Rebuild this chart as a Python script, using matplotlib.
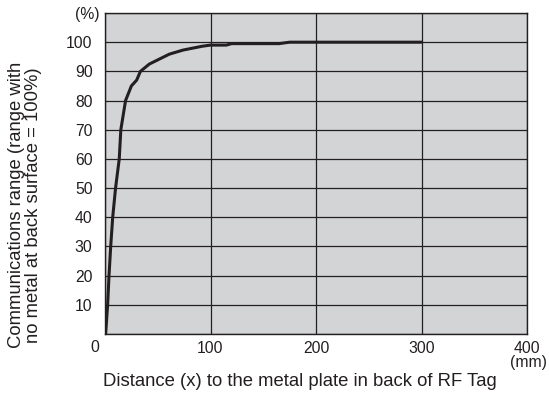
import matplotlib
matplotlib.use("Agg")
import matplotlib.pyplot as plt
from matplotlib import font_manager as fm

path = None
for f in fm.fontManager.ttflist:
    if f.fname.endswith('LiberationSans-Regular.ttf'):
        path = f.fname
        break


def font(size):
    if path:
        return fm.FontProperties(fname=path, size=size)
    return fm.FontProperties(family='DejaVu Sans', size=size)


fp = font(11.3)
fl = font(13.3)

distance_mm = [0.6, 2.5, 3.8, 5.4, 7.3, 10, 13.5, 15, 19.5, 25, 30, 33.6, 42, 61, 74, 92, 100, 115, 120, 165, 175, 300]
range_pct = [0, 10, 20, 30, 40, 50, 60, 70, 80, 85, 87, 90, 92.5, 95.9, 97.3, 98.6, 99, 99, 99.5, 99.5, 100, 100]

x_ticks = [0, 100, 200, 300, 400]
y_ticks = [0, 10, 20, 30, 40, 50, 60, 70, 80, 90, 100]

C = '#231f20'

fig = plt.figure(figsize=(5.49, 3.97), dpi=100)
ax = fig.add_axes([105/549, 1-334/397, (527-105)/549, (334-13)/397])
ax.set_facecolor('#d3d4d6')
ax.set_xlim(0, 400)
ax.set_ylim(0, 110)
ax.set_xticks(x_ticks)
ax.set_xticklabels([''] + [str(v) for v in x_ticks[1:]], fontproperties=fp)
ax.set_yticks(y_ticks + [110])
ax.set_yticklabels([''] + [str(v) for v in y_ticks[1:]] + [''], fontproperties=fp)
ax.tick_params(length=0, colors=C)
ax.tick_params(axis='y', pad=9)
ax.tick_params(axis='x', pad=5)
ax.grid(True, color=C, linewidth=0.9)
ax.set_axisbelow(True)
for s in ax.spines.values():
    s.set_color(C)
    s.set_linewidth(1.0)

ax.plot(distance_mm, range_pct, color=C, linewidth=2.2, solid_joinstyle='round', zorder=3)

fig.text(95/549, 1-347/397, '0', ha='center', va='center', fontproperties=fp, color=C)
fig.text(100/549, 1-15/397, '(%)', ha='right', va='center', fontproperties=fp, color=C)
fig.text(547/549, 1-362/397, '(mm)', ha='right', va='center', fontproperties=fp, color=C)
fig.text(300/549, 1-382/397, 'Distance (x) to the metal plate in back of RF Tag', ha='center', va='center', fontproperties=fl, color=C)
fig.text(25/549, 1-205/397, 'Communications range (range with\nno metal at back surface = 100%)', ha='center', va='center', rotation=90, fontproperties=fl, color=C, linespacing=1.05)

fig.savefig('out.png', dpi=100)
